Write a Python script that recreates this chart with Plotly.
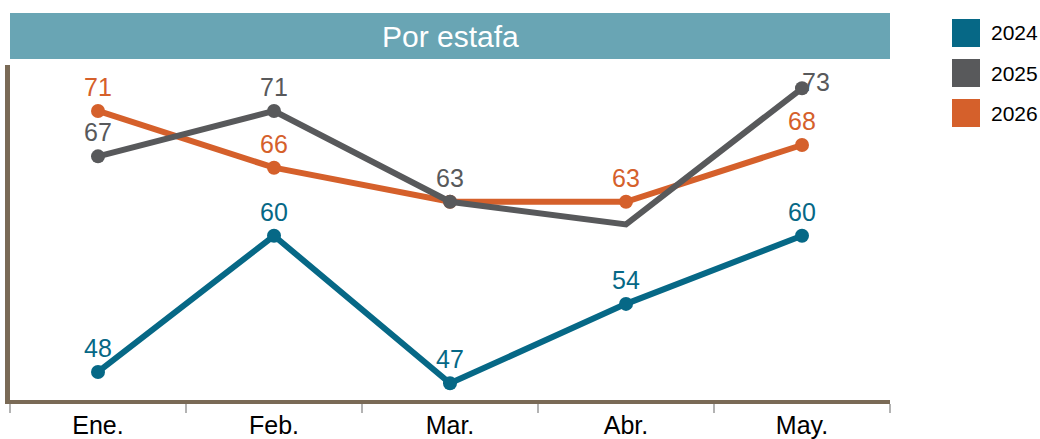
import plotly.graph_objects as go

months = ["Ene.", "Feb.", "Mar.", "Abr.", "May."]
series_names = ["2024", "2025", "2026"]
values_2024 = [48, 60, 47, 54, 60]
values_2025 = [67, 71, 63, 61, 73]
values_2026 = [71, 66, 63, 63, 68]
marker_2024 = [True, True, True, True, True]
marker_2025 = [True, True, True, False, True]
marker_2026 = [True, True, True, True, True]
label_2024 = [True, True, True, True, True]
label_2025 = [True, True, True, False, True]
label_2026 = [True, True, False, True, True]
title_text = "Por estafa"

colors = {"2024": "#066886", "2025": "#58595b", "2026": "#d5602b"}
series = {
    "2024": (values_2024, marker_2024, label_2024),
    "2025": (values_2025, marker_2025, label_2025),
    "2026": (values_2026, marker_2026, label_2026),
}
draw_order = ["2024", "2026", "2025"]

FONT = "Liberation Sans, Arial, sans-serif"
W, H = 1040, 439
ML, MR, MT, MB = 10, 150, 65, 39
plot_w = W - ML - MR
plot_h = H - MT - MB
y_range = [45.53, 75.05]

fig = go.Figure()
annotations = []
for name in draw_order:
    vals, markers, labels = series[name]
    c = colors[name]
    fig.add_trace(go.Scatter(
        x=months, y=vals, name=name, mode="lines+markers",
        line=dict(color=c, width=6),
        marker=dict(color=c, size=[14 if s else 0 for s in markers],
                    opacity=1, line=dict(width=0)),
        showlegend=False, hoverinfo="x+y+name",
    ))
    for m, v, s in zip(months, vals, labels):
        if not s:
            continue
        py = (y_range[1] - v) / (y_range[1] - y_range[0]) * plot_h
        if py - 38 < 0:
            xs, ys = 14, 6
        else:
            xs, ys = 0, 24
        annotations.append(dict(
            x=m, y=v, xref="x", yref="y", text=str(v), showarrow=False,
            xshift=xs, yshift=ys, font=dict(size=25, color=c, family=FONT),
            xanchor="center", yanchor="middle",
        ))

def py2paper(p):
    return ((H - MB) - p) / plot_h

def px2paper(p):
    return (p - ML) / plot_w

shapes = [dict(type="rect", xref="paper", yref="paper",
               x0=0, x1=1, y0=py2paper(59), y1=py2paper(13),
               fillcolor="#69a5b4", line=dict(width=0), layer="below")]
annotations.append(dict(x=0.5, y=py2paper(36), xref="paper", yref="paper",
                        text=title_text, showarrow=False,
                        font=dict(size=30, color="white", family=FONT),
                        xanchor="center", yanchor="middle"))

for i, name in enumerate(series_names):
    cy = 33 + 40 * i
    shapes.append(dict(type="rect", xref="paper", yref="paper",
                       x0=px2paper(952), x1=px2paper(980),
                       y0=py2paper(cy + 14), y1=py2paper(cy - 14),
                       fillcolor=colors[name], line=dict(width=0)))
    annotations.append(dict(x=px2paper(989), y=py2paper(cy), xref="paper", yref="paper",
                            text=name, showarrow=False, xanchor="left", yanchor="middle",
                            font=dict(size=21, color="black", family=FONT)))

fig.update_layout(
    width=W, height=H,
    margin=dict(l=ML, r=MR, t=MT, b=MB, pad=0, autoexpand=False),
    plot_bgcolor="white", paper_bgcolor="white",
    showlegend=False,
    font=dict(family=FONT, color="black"),
    shapes=shapes, annotations=annotations,
    xaxis=dict(type="category", categoryorder="array", categoryarray=months,
               range=[-0.5, 4.5], showgrid=False, zeroline=False, automargin=False,
               showline=True, linecolor="#7a6a56", linewidth=4,
               ticks="outside", tickson="boundaries", ticklen=9,
               tickcolor="#b3b3b3", tickwidth=2,
               tickfont=dict(size=25, color="black")),
    yaxis=dict(range=y_range, showgrid=False, zeroline=False, automargin=False,
               showline=True, linecolor="#7a6a56", linewidth=5,
               showticklabels=False, ticks=""),
)

fig.write_html(
    "out.html",
    config={"displayModeBar": False},
    post_script="document.body.style.margin='0';document.body.style.overflow='hidden';",
)
